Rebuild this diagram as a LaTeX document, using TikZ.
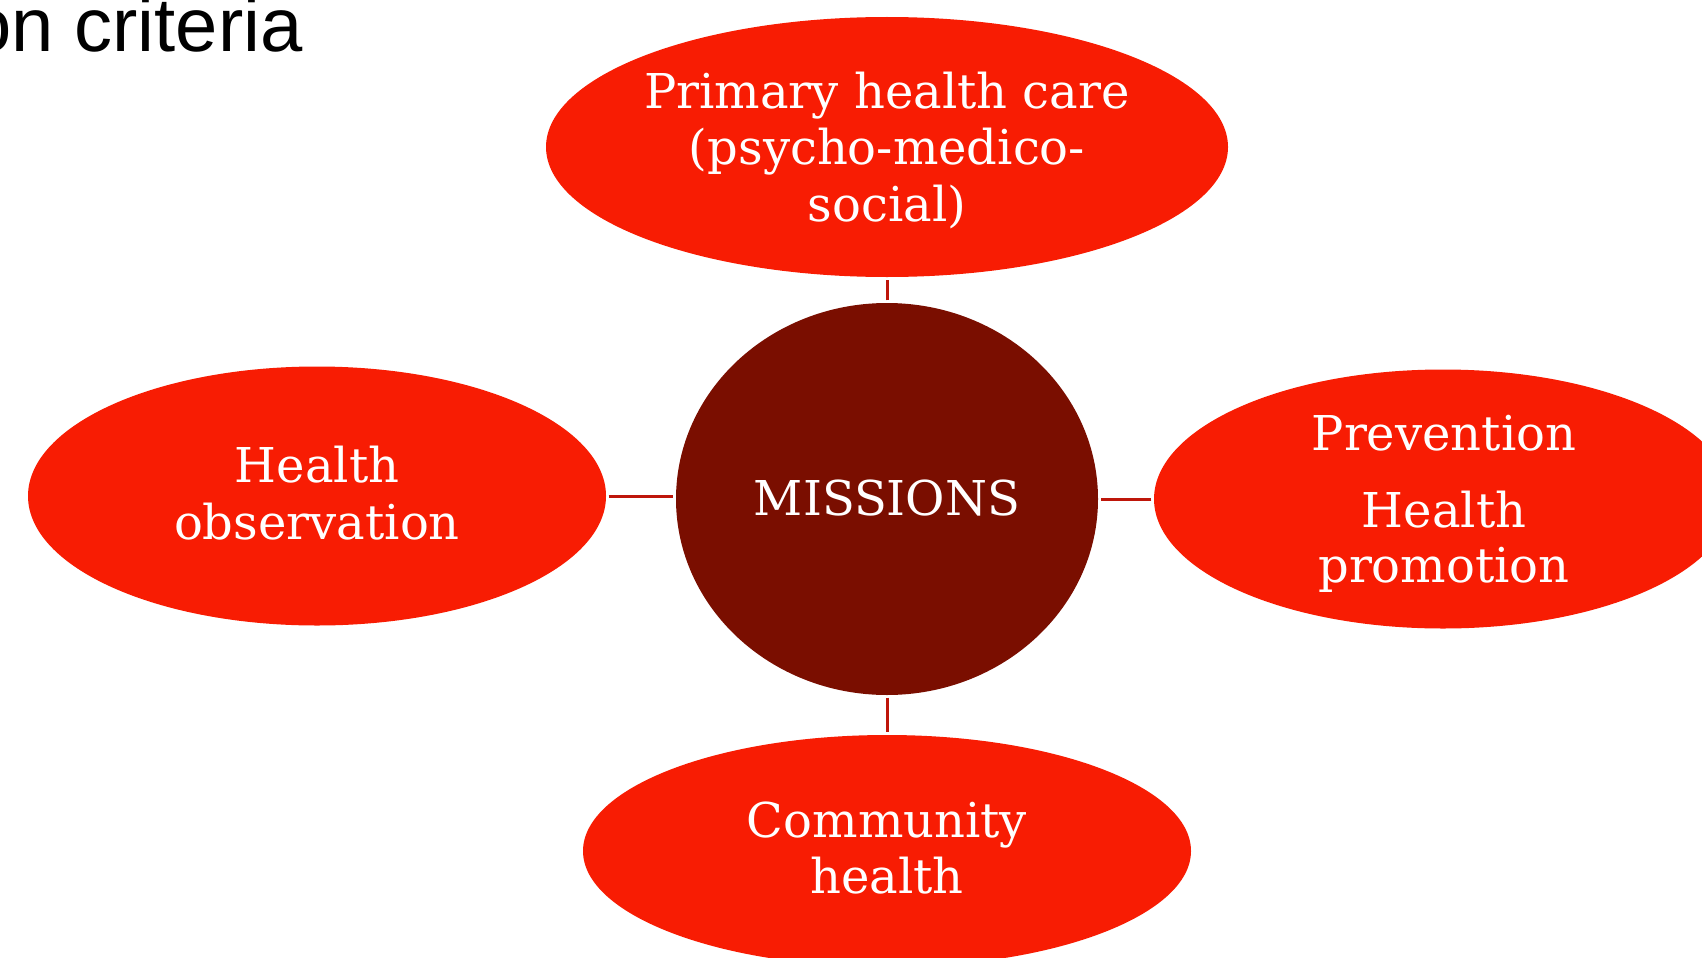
\documentclass[tikz,border=0pt]{standalone}
\usepackage{fontspec}
\setmainfont{DejaVu Serif}
\newfontfamily\titlefont{Liberation Sans}
\usetikzlibrary{shapes.geometric}
\definecolor{ellred}{RGB}{248,28,3}
\definecolor{middark}{RGB}{122,14,0}
\definecolor{linkred}{RGB}{190,22,10}
\tikzset{
  blob/.style={ellipse, fill=ellred, draw=none, inner sep=0pt},
  hub/.style={ellipse, fill=middark, draw=none, inner sep=0pt},
  txt/.style={text=white, font=\fontsize{48}{56}\selectfont, anchor=base, inner sep=0pt},
  link/.style={draw=linkred, line width=3pt, shorten <=2.5pt, shorten >=2.5pt}
}
\begin{document}
\begin{tikzpicture}[x=1pt,y=-1pt]
\useasboundingbox (0,0) rectangle (1702,958);
\fill[white] (0,0) rectangle (1702,958);
\node[anchor=base east, inner sep=0pt, font=\titlefont\fontsize{76}{80}\selectfont] (title) at (303,52) {on criteria};
\node[blob, minimum width=682pt, minimum height=260pt] (top) at (887,147) {};
\node[hub, minimum width=422pt, minimum height=392pt] (mid) at (887,499) {};
\node[blob, minimum width=578pt, minimum height=259pt] (left) at (317,496) {};
\node[blob, minimum width=578pt, minimum height=259pt] (right) at (1443,499) {};
\node[blob, minimum width=608pt, minimum height=232pt] (bottom) at (887,851) {};
\draw[link] (mid.north) -- (top.south);
\draw[link] (mid.south) -- (bottom.north);
\draw[link] (left.east) -- (left.east -| mid.west);
\draw[link] (right.west) -- (right.west -| mid.east);
\node[txt] (t1) at (887,108) {Primary health care};
\node[txt] (t2) at (887,164) {(psycho-medico-};
\node[txt] (t3) at (887,221) {social)};
\node[txt] (m1) at (887,515) {MISSIONS};
\node[txt] (l1) at (317,482) {Health};
\node[txt] (l2) at (317,539) {observation};
\node[txt] (r1) at (1444,450) {Prevention};
\node[txt] (r2) at (1444,527) {Health};
\node[txt] (r3) at (1444,582) {promotion};
\node[txt] (b1) at (887,837) {Community};
\node[txt] (b2) at (887,893) {health};
\end{tikzpicture}
\end{document}
